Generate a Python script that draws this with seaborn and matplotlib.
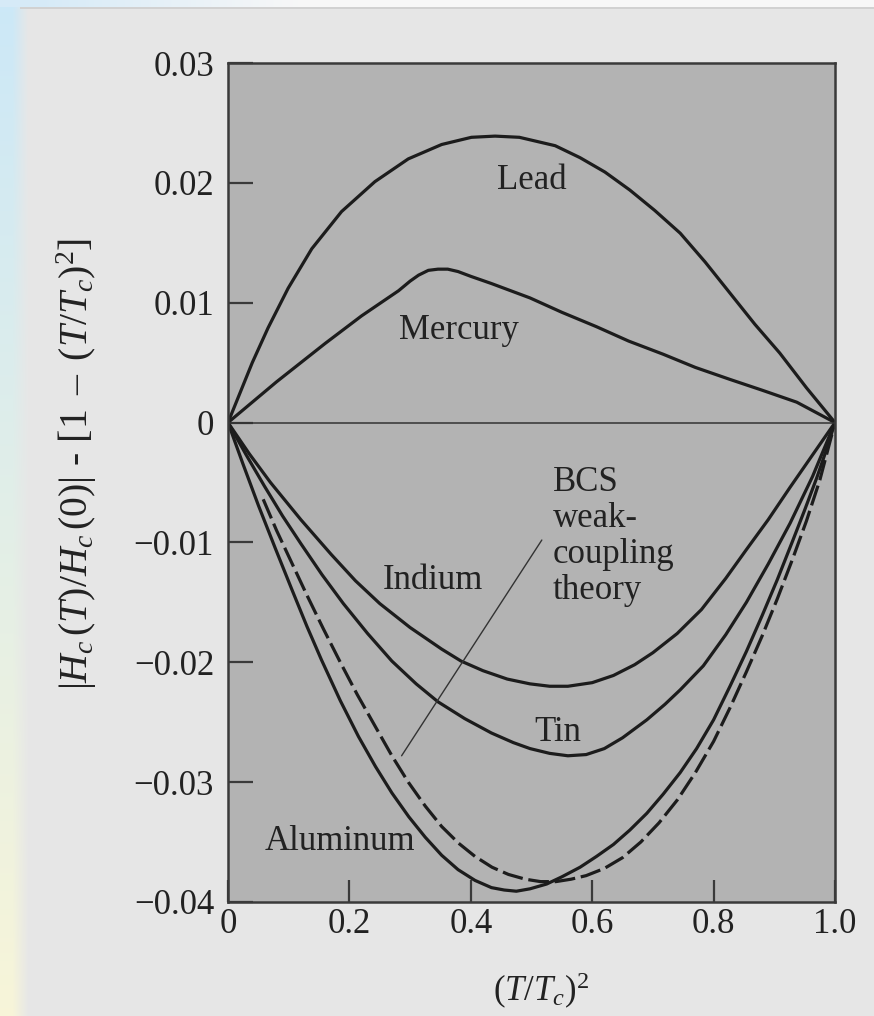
import numpy as np
import pandas as pd
import matplotlib
matplotlib.use("Agg")
import matplotlib.pyplot as plt
import seaborn as sns

# Deviation of the reduced critical field from the parabolic law, vs (T/Tc)^2
lead_x = [0, 0.02, 0.04, 0.066, 0.099, 0.138, 0.187, 0.242, 0.297, 0.352, 0.401, 0.44, 0.48,
          0.539, 0.58, 0.621, 0.662, 0.703, 0.745, 0.786, 0.827, 0.868, 0.909, 0.953, 1.0]
lead_y = [0, 0.0025, 0.0050, 0.0079, 0.0112, 0.0145, 0.0176, 0.0201, 0.0220, 0.0232, 0.0238, 0.0239, 0.0238,
          0.0231, 0.0221, 0.0209, 0.0194, 0.0177, 0.0158, 0.0134, 0.0108, 0.0082, 0.0058, 0.0029, 0]

mercury_x = [0, 0.08, 0.16, 0.22, 0.281, 0.30, 0.314, 0.33, 0.346, 0.362, 0.379, 0.40, 0.434,
             0.4975, 0.55, 0.607, 0.66, 0.717, 0.77, 0.827, 0.88, 0.937, 1.0]
mercury_y = [0, 0.0034, 0.0066, 0.0089, 0.0110, 0.0118, 0.0123, 0.0127, 0.0128, 0.0128, 0.0126, 0.0122, 0.0116,
             0.0104, 0.0092, 0.0080, 0.0068, 0.0057, 0.0046, 0.0036, 0.0027, 0.0017, 0]

indium_x = [0, 0.035, 0.07, 0.12, 0.17, 0.21, 0.25, 0.30, 0.352, 0.384, 0.42, 0.46, 0.4975, 0.53,
            0.56, 0.60, 0.635, 0.67, 0.70, 0.74, 0.78, 0.82, 0.854, 0.89, 0.926, 0.963, 1.0]
indium_y = [0, -0.0026, -0.0050, -0.0081, -0.0110, -0.0132, -0.0151, -0.0171, -0.0189, -0.0199, -0.0207,
            -0.0214, -0.0218, -0.0220, -0.0220, -0.0217, -0.0211, -0.0202, -0.0192, -0.0176, -0.0156,
            -0.0130, -0.0106, -0.0081, -0.0054, -0.0027, 0]

tin_x = [0, 0.03, 0.06, 0.09, 0.12, 0.155, 0.19, 0.23, 0.27, 0.31, 0.346, 0.39, 0.434, 0.47, 0.4975,
         0.53, 0.56, 0.59, 0.62, 0.65, 0.69, 0.72, 0.745, 0.783, 0.82, 0.854, 0.89, 0.926, 0.963, 1.0]
tin_y = [0, -0.0027, -0.0053, -0.0078, -0.0101, -0.0127, -0.0151, -0.0176, -0.0199, -0.0218, -0.0233,
         -0.0247, -0.0259, -0.0267, -0.0272, -0.0276, -0.0278, -0.0277, -0.0272, -0.0263, -0.0248,
         -0.0235, -0.0223, -0.0203, -0.0177, -0.0150, -0.0118, -0.0084, -0.0045, 0]

aluminum_x = [0, 0.025, 0.05, 0.078, 0.105, 0.13, 0.154, 0.185, 0.215, 0.243, 0.27, 0.298, 0.325, 0.352,
              0.379, 0.407, 0.434, 0.455, 0.475, 0.4975, 0.525, 0.55, 0.58, 0.607, 0.635, 0.662, 0.69,
              0.717, 0.745, 0.772, 0.80, 0.827, 0.854, 0.88, 0.905, 0.93, 0.95, 0.97, 0.985, 1.0]
aluminum_y = [0, -0.0035, -0.0069, -0.0105, -0.0139, -0.0170, -0.0198, -0.0232, -0.0262, -0.0287, -0.0309,
              -0.0329, -0.0346, -0.0361, -0.0373, -0.0382, -0.0388, -0.0390, -0.0391, -0.0389, -0.0385,
              -0.0379, -0.0371, -0.0362, -0.0352, -0.0340, -0.0326, -0.0310, -0.0292, -0.0272, -0.0248,
              -0.0220, -0.0191, -0.0161, -0.0131, -0.0099, -0.0073, -0.0046, -0.0024, 0]

# BCS weak-coupling prediction (dashed)
bcs_x = [0.058, 0.08, 0.105, 0.13, 0.157, 0.185, 0.213, 0.242, 0.27, 0.297, 0.325, 0.352, 0.38, 0.407,
         0.435, 0.462, 0.49, 0.515, 0.54, 0.565, 0.59, 0.62, 0.65, 0.68, 0.71, 0.74, 0.77, 0.80, 0.827,
         0.854, 0.88, 0.905, 0.93, 0.953, 0.975, 1.0]
bcs_y = [-0.0064, -0.0090, -0.0117, -0.0144, -0.0172, -0.0200, -0.0227, -0.0253, -0.0278, -0.0300, -0.0320,
         -0.0337, -0.0351, -0.0362, -0.0371, -0.0377, -0.0381, -0.0383, -0.0383, -0.0381, -0.0378, -0.0372,
         -0.0363, -0.0350, -0.0334, -0.0315, -0.0292, -0.0266, -0.0238, -0.0208, -0.0178, -0.0147, -0.0114,
         -0.0082, -0.0048, 0]

x_ticks = [0, 0.2, 0.4, 0.6, 0.8, 1.0]
x_ticklabels = ["0", "0.2", "0.4", "0.6", "0.8", "1.0"]
y_ticks = [0.03, 0.02, 0.01, 0, -0.01, -0.02, -0.03, -0.04]
y_ticklabels = ["0.03", "0.02", "0.01", "0", "\u22120.01", "\u22120.02", "\u22120.03", "\u22120.04"]

sns.set_theme(style="white")
plt.rcParams["font.family"] = ["Liberation Serif", "DejaVu Serif"]
plt.rcParams["mathtext.fontset"] = "custom"
plt.rcParams["mathtext.rm"] = "Liberation Serif"
plt.rcParams["mathtext.it"] = "Liberation Serif:italic"
plt.rcParams["mathtext.bf"] = "Liberation Serif:bold"

W, H = 874, 1016
fig = plt.figure(figsize=(W / 100, H / 100), dpi=100)

# page background: light gray paper with a tinted left margin
yy, xx = np.mgrid[0:H, 0:W]
bg = np.ones((H, W, 3)) * 0.905
t = yy / H
tint = np.stack([0.80 + 0.17 * t, 0.91 + 0.05 * t, 0.97 - 0.12 * t], axis=-1)
w = np.clip((28 - xx) / 16.0, 0, 1)[..., None]
bg = bg * (1 - w) + tint * w
top = (yy < 7)[..., None]
topfade = np.clip((xx - 40) / 260.0, 0, 1)[..., None]
topcol = np.array([0.84, 0.92, 0.97]) * (1 - topfade) + np.array([0.97, 0.97, 0.97]) * topfade
bg = np.where(top, topcol, bg)
bg[7:9, 20:, :] = 0.82
bg_ax = fig.add_axes([0, 0, 1, 1], zorder=-1)
bg_ax.imshow(bg, aspect="auto", interpolation="bilinear")
bg_ax.axis("off")

ax = fig.add_axes([228 / W, 1 - 902 / H, (835 - 228) / W, (902 - 63) / H], zorder=1)
ax.set_facecolor("#b3b3b3")

ink = "#1c1c1c"
lw = 2.3
for xs, ys in [(lead_x, lead_y), (mercury_x, mercury_y), (indium_x, indium_y),
               (tin_x, tin_y), (aluminum_x, aluminum_y)]:
    sns.lineplot(x=xs, y=ys, ax=ax, color=ink, lw=lw, sort=False, estimator=None)
sns.lineplot(x=bcs_x, y=bcs_y, ax=ax, color=ink, lw=lw, sort=False, estimator=None)
ax.lines[-1].set_dashes((6.5, 1.8))
for ln in ax.lines:
    ln.set_solid_joinstyle("round")
    ln.set_solid_capstyle("round")
ax.axhline(0, color="#333333", lw=1.1)

# pointer from the BCS caption to the dashed curve
ax.plot([0.286, 0.517], [-0.0278, -0.0098], color="#333333", lw=1.0)

txt = dict(fontsize=25, color="#222222")
ax.text(0.50, 0.0195, "Lead", ha="center", va="baseline", **txt)
ax.text(0.381, 0.0070, "Mercury", ha="center", va="baseline", **txt)
ax.text(0.337, -0.01385, "Indium", ha="center", va="baseline", **txt)
ax.text(0.544, -0.0266, "Tin", ha="center", va="baseline", **txt)
ax.text(0.1845, -0.0357, "Aluminum", ha="center", va="baseline", **txt)
ax.text(0.535, -0.0036, "BCS\nweak-\ncoupling\ntheory", ha="left", va="top",
        linespacing=1.12, **txt)

ax.set_xlim(0, 1.0)
ax.set_ylim(-0.04, 0.03)
ax.set_xticks(x_ticks)
ax.set_xticklabels(x_ticklabels)
ax.set_yticks(y_ticks)
ax.set_yticklabels(y_ticklabels)
ax.tick_params(axis="y", direction="in", length=18, width=1.6, color="#3a3a3a",
               pad=10, labelsize=25, labelcolor="#222222", left=True)
ax.tick_params(axis="x", direction="in", length=16, width=1.6, color="#3a3a3a",
               pad=4, labelsize=25, labelcolor="#222222", bottom=True)
for s in ax.spines.values():
    s.set_visible(True)
    s.set_color("#3a3a3a")
    s.set_linewidth(1.8)

ax.set_xlabel(r"$(T/T_c)^2$", fontsize=25, color="#222222")
ax.xaxis.set_label_coords(0.516, -0.082)
ax.set_ylabel(r"$|H_c\,(T)/H_c\,(0)|$ - [1 $\,$–$\,$ $(T/T_c)^2$]", fontsize=28.5, color="#222222")
ax.yaxis.set_label_coords(-0.212, 0.522)

fig.savefig("out.png", dpi=100)
